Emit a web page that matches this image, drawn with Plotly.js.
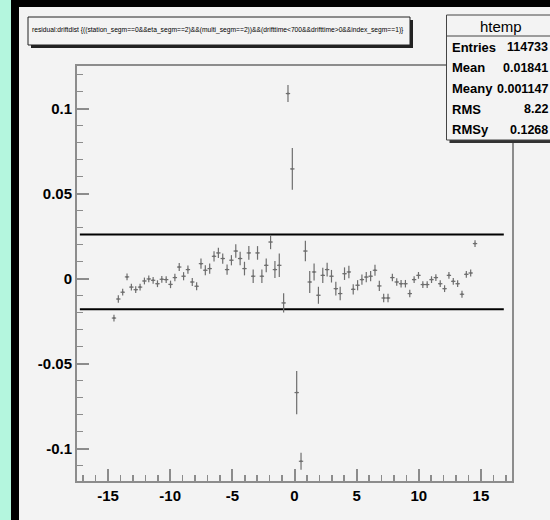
<!DOCTYPE html>
<html>
<head>
<meta charset="utf-8">
<script src="https://cdn.plot.ly/plotly-3.0.1.min.js"></script>
<style>
  html, body { margin: 0; padding: 0; width: 550px; height: 520px; overflow: hidden; background: #000; }
  #mint { position: absolute; left: 0; top: 0; width: 11px; height: 520px; background: #b4f6de; }
  #chart { position: absolute; left: 19px; top: 7px; width: 531px; height: 513px; }
</style>
</head>
<body>
<div id="mint"></div>
<div id="chart"></div>
<script>
// ---- data (profile of residual vs driftdist) ----
const binX = [
  -14.525, -14.175, -13.825, -13.475, -13.125, -12.775, -12.425, -12.075, -11.725, -11.375,
  -11.025, -10.675, -10.325, -9.975, -9.625, -9.275, -8.925, -8.575, -8.225, -7.875,
  -7.525, -7.175, -6.825, -6.475, -6.125, -5.775, -5.425, -5.075, -4.725, -4.375,
  -4.025, -3.675, -3.325, -2.975, -2.625, -2.275, -1.925, -1.575, -1.225, -0.875,
  -0.525, -0.175, 0.175, 0.525, 0.875, 1.225, 1.575, 1.925, 2.275, 2.625,
  2.975, 3.325, 3.675, 4.025, 4.375, 4.725, 5.075, 5.425, 5.775, 6.125,
  6.475, 6.825, 7.175, 7.525, 7.875, 8.225, 8.575, 8.925, 9.275, 9.625,
  9.975, 10.325, 10.675, 11.025, 11.375, 11.725, 12.075, 12.425, 12.775, 13.125,
  13.475, 13.825, 14.175, 14.525
];
const profY = [
  -0.0232, -0.0120, -0.0080, 0.0010, -0.0050, -0.0065, -0.0050, -0.0014, -0.0002, -0.0010,
  -0.0030, -0.0004, -0.0006, -0.0034, 0.0006, 0.0068, 0.0014, 0.0053, -0.0020, -0.0045,
  0.0088, 0.0049, 0.0059, 0.0131, 0.0151, 0.0118, 0.0053, 0.0108, 0.0162, 0.0118,
  0.0059, 0.0151, 0.0014, 0.0151, 0.0014, 0.0078, 0.0215, 0.0053, 0.0078, -0.0143,
  0.1088, 0.0645, -0.0670, -0.1074, 0.0162, -0.0020, 0.0039, -0.0098, 0.0019, 0.0053,
  0.0014, -0.0059, -0.0088, 0.0029, 0.0039, -0.0063, -0.0039, -0.0006, 0.0009, 0.0014,
  0.0049, -0.0043, -0.0114, -0.0114, 0.0006, -0.0020, -0.0030, -0.0030, -0.0088, -0.0006,
  0.0019, -0.0035, -0.0035, -0.0006, 0.0006, -0.0030, -0.0059, 0.0019, -0.0016, -0.0030,
  -0.0092, 0.0025, 0.0033, 0.0206
];
const profErr = [
  0.0020, 0.0022, 0.0020, 0.0020, 0.0020, 0.0020, 0.0020, 0.0020, 0.0020, 0.0020,
  0.0020, 0.0020, 0.0020, 0.0022, 0.0022, 0.0024, 0.0024, 0.0024, 0.0024, 0.0024,
  0.0030, 0.0030, 0.0030, 0.0030, 0.0030, 0.0030, 0.0030, 0.0030, 0.0040, 0.0040,
  0.0040, 0.0040, 0.0040, 0.0040, 0.0040, 0.0040, 0.0042, 0.0050, 0.0069, 0.0057,
  0.0050, 0.0123, 0.0127, 0.0050, 0.0060, 0.0065, 0.0050, 0.0050, 0.0045, 0.0040,
  0.0037, 0.0040, 0.0040, 0.0037, 0.0037, 0.0030, 0.0030, 0.0030, 0.0030, 0.0030,
  0.0032, 0.0030, 0.0025, 0.0025, 0.0022, 0.0022, 0.0022, 0.0022, 0.0022, 0.0020,
  0.0020, 0.0020, 0.0020, 0.0020, 0.0020, 0.0020, 0.0020, 0.0020, 0.0020, 0.0020,
  0.0020, 0.0020, 0.0020, 0.0020
];
const binHalfWidth = 0.175;

const bandX = [-17.27, 16.84];
const bandUpper = [0.026, 0.026];
const bandLower = [-0.018, -0.018];

const xTickVals = [-15, -10, -5, 0, 5, 10, 15];
const xTickText = ["-15", "-10", "-5", "0", "5", "10", "15"];
const yTickVals = [-0.1, -0.05, 0, 0.05, 0.1];
const yTickText = ["-0.1", "-0.05", "0", "0.05", "0.1"];

const titleText = "residual:driftdist {((station_segm==0&amp;&amp;eta_segm==2)&amp;&amp;(multi_segm==2))&amp;&amp;(drifttime&lt;700&amp;&amp;drifttime&gt;0&amp;&amp;index_segm==1)}";
const statTitle = "htemp";
const statNames = ["Entries", "Mean", "Meany", "RMS", "RMSy"];
const statValues = ["114733", "0.01841", "0.001147", "8.22", "0.1268"];

// ---- layout helpers (page pixel -> paper coords) ----
const PL = 77, PR = 512, PT = 66, PB = 481;
const px = v => (v - PL) / (PR - PL);
const py = v => (PB - v) / (PB - PT);

const axisGray = '#8c8c8c';
const barGray = '#6e6e6e';
const bg = '#f3f3f3';
const sans = '"Liberation Sans", Arial, sans-serif';

const traces = [
  {
    type: 'scatter', mode: 'lines', x: bandX, y: bandUpper,
    line: { color: '#000', width: 2 }, hoverinfo: 'skip'
  },
  {
    type: 'scatter', mode: 'lines', x: bandX, y: bandLower,
    line: { color: '#000', width: 2 }, hoverinfo: 'skip'
  },
  {
    type: 'scatter', mode: 'markers', x: binX, y: profY,
    marker: { size: 2, color: barGray },
    error_y: { type: 'data', array: profErr, visible: true, color: barGray, thickness: 1.2, width: 0 },
    error_x: { type: 'constant', value: binHalfWidth, visible: true, color: barGray, thickness: 1.2, width: 0 }
  }
];

const statAnn = [];
const rowY = [47.3, 67.9, 88.5, 109.1, 129.7];
statNames.forEach((n, i) => {
  statAnn.push({ xref: 'paper', yref: 'paper', x: px(450), y: py(rowY[i]), xanchor: 'left', yanchor: 'middle',
    text: n, showarrow: false, font: { family: sans, size: 13, color: '#000', weight: 'bold' } });
  statAnn.push({ xref: 'paper', yref: 'paper', x: px(550), y: py(rowY[i]), xanchor: 'right', yanchor: 'middle',
    text: statValues[i], showarrow: false, font: { family: sans, size: 12.5, color: '#000', weight: 'bold' } });
});

const layout = {
  width: 531, height: 513, autosize: false,
  margin: { l: 58, r: 38, t: 59, b: 39 },
  paper_bgcolor: bg, plot_bgcolor: bg,
  showlegend: false, hovermode: false,
  xaxis: {
    range: [-17.5, 17.5], tickmode: 'array', tickvals: xTickVals, ticktext: xTickText,
    ticks: 'inside', ticklen: 12, tickwidth: 2, tickcolor: axisGray,
    showline: true, linecolor: axisGray, linewidth: 2, mirror: true,
    showgrid: false, zeroline: false,
    tickfont: { family: sans, size: 15, color: '#000', weight: 'bold' },
    minor: { ticks: 'inside', ticklen: 6, tickwidth: 1.5, tickcolor: axisGray, tickmode: 'linear', tick0: 0, dtick: 1, showgrid: false }
  },
  yaxis: {
    range: [-0.119, 0.125], tickmode: 'array', tickvals: yTickVals, ticktext: yTickText,
    ticks: 'inside', ticklen: 12, tickwidth: 2, tickcolor: axisGray,
    showline: true, linecolor: axisGray, linewidth: 2, mirror: true,
    showgrid: false, zeroline: false,
    tickfont: { family: sans, size: 15, color: '#000', weight: 'bold' },
    minor: { ticks: 'inside', ticklen: 6, tickwidth: 1.5, tickcolor: axisGray, tickmode: 'linear', tick0: 0, dtick: 0.01, showgrid: false }
  },
  shapes: [
    // title box + shadow
    { type: 'rect', xref: 'paper', yref: 'paper', x0: px(31), x1: px(413), y0: py(20), y1: py(48),
      fillcolor: '#222', line: { width: 0 }, layer: 'above' },
    { type: 'rect', xref: 'paper', yref: 'paper', x0: px(28), x1: px(410), y0: py(17), y1: py(45),
      fillcolor: bg, line: { color: '#222', width: 1 }, layer: 'above' },
    // stats box + shadow
    { type: 'rect', xref: 'paper', yref: 'paper', x0: px(449.5), x1: px(566), y0: py(18), y1: py(143),
      fillcolor: '#333', line: { width: 0 }, layer: 'above' },
    { type: 'rect', xref: 'paper', yref: 'paper', x0: px(446.5), x1: px(563), y0: py(15), y1: py(140),
      fillcolor: bg, line: { color: '#444', width: 1 }, layer: 'above' },
    { type: 'line', xref: 'paper', yref: 'paper', x0: px(446.5), x1: px(563), y0: py(36), y1: py(36),
      line: { color: '#444', width: 1 }, layer: 'above' }
  ],
  annotations: [
    { xref: 'paper', yref: 'paper', x: px(218), y: py(30.5), xanchor: 'center', yanchor: 'middle',
      text: titleText, showarrow: false, font: { family: sans, size: 6.7, color: '#000' } },
    { xref: 'paper', yref: 'paper', x: px(501), y: py(26.5), xanchor: 'center', yanchor: 'middle',
      text: statTitle, showarrow: false, font: { family: sans, size: 15, color: '#000' } }
  ].concat(statAnn)
};

Plotly.newPlot('chart', traces, layout, { staticPlot: true, displayModeBar: false });
</script>
</body>
</html>
